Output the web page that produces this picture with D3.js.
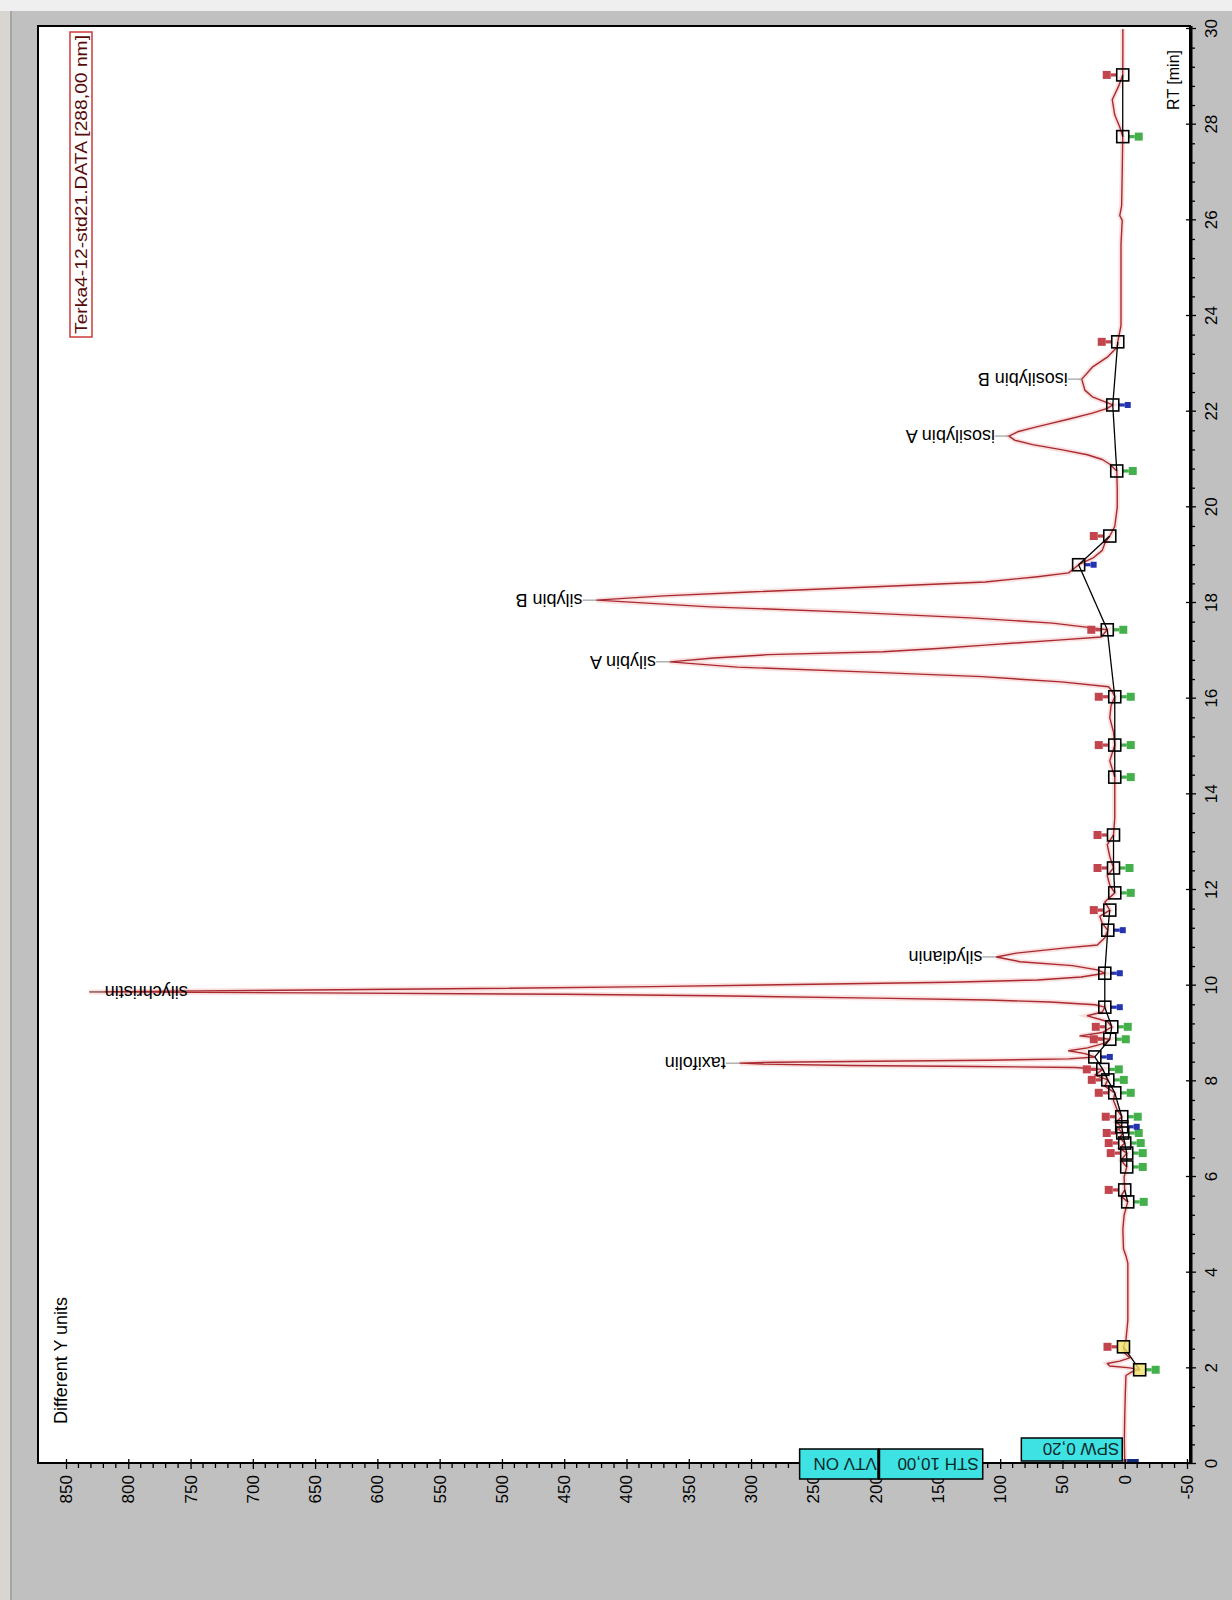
<!DOCTYPE html>
<html>
<head>
<meta charset="utf-8">
<title>Terka4-12-std21 chromatogram</title>
<script src="https://d3js.org/d3.v7.min.js"></script>
<style>
  body { margin: 0; background: #c0c0c0; }
  svg { display: block; font-family: "Liberation Sans", Arial, sans-serif; }
  .axis path.domain { display: none; }
  .axis text { font-size: 17px; fill: #000; }
  .axis line { stroke: #000; stroke-width: 1.3; }
  .peak-label { font-size: 18px; fill: #000; }
  .event-box { fill: #3fe2e2; stroke: #000; stroke-width: 1.5; }
  .event-text { font-size: 17px; fill: #0b2a2a; }
</style>
</head>
<body>
<div id="chart"></div>
<script>
// trace: retention time (min) and detector signal
const traceRT = [0, 0.5, 1.0, 1.5, 1.85, 1.93, 1.97, 2.01, 2.05, 2.10, 2.15, 2.22, 2.32, 2.45, 2.6, 3.0, 3.6, 4.2, 4.35, 4.5,
  4.9, 5.2, 5.48, 5.6, 5.73, 6.0, 6.21, 6.35, 6.5, 6.6, 6.71, 6.82, 6.92, 7.0, 7.05, 7.15, 7.26, 7.4, 7.6, 7.76,
  7.9, 8.03, 8.13, 8.25, 8.29, 8.31, 8.33, 8.36, 8.38, 8.40, 8.42, 8.44, 8.47, 8.51, 8.58, 8.64, 8.70, 8.80, 8.88, 8.95,
  9.02, 9.14, 9.25, 9.37, 9.45, 9.55, 9.60, 9.66, 9.70, 9.74, 9.79, 9.82, 9.85, 9.87, 9.90, 9.94, 9.98, 10.03, 10.07, 10.12,
  10.18, 10.26, 10.33, 10.42, 10.50, 10.60, 10.68, 10.79, 10.85, 11.0, 11.16, 11.3, 11.45, 11.58, 11.75, 11.94, 12.1, 12.3, 12.46, 12.7,
  12.95, 13.15, 13.5, 14.0, 14.36, 14.7, 15.03, 15.3, 15.6, 15.85, 16.04, 16.15, 16.25, 16.35, 16.46, 16.56, 16.66, 16.77, 16.85, 16.92,
  16.98, 17.05, 17.12, 17.23, 17.29, 17.44, 17.48, 17.58, 17.69, 17.81, 17.92, 18.06, 18.15, 18.23, 18.34, 18.44, 18.55, 18.63, 18.80, 18.95,
  19.1, 19.25, 19.4, 19.6, 20.0, 20.4, 20.76, 20.9, 21.0, 21.1, 21.2, 21.31, 21.4, 21.49, 21.58, 21.66, 21.75, 21.83, 21.97, 22.07,
  22.14, 22.31, 22.45, 22.68, 22.93, 23.14, 23.35, 23.46, 23.8, 24.5, 25.5, 26.0, 26.1, 26.3, 27.0, 27.75, 27.95, 28.2, 28.52, 28.8,
  29.04, 29.5, 30.0];
const traceSig = [0, 0.3, 0, -0.5, -1, -6, -12, -4, 12, 14, 4, -4, 0, 1, -1, -2.5, -2.5, -2.5, -1, 1,
  1.5, 0.5, -2.4, 3, 0, 0.5, -1.6, 3, -1.6, 4, 0, 4, 1.6, 5, 2.4, 7, 2.4, 6, 9, 8,
  16, 13.6, 24, 17.6, 40, 120, 220, 290, 309, 280, 200, 110, 45, 24, 32, 45, 30, 16, 12, 36,
  18, 10.4, 14, 30, 18, 16, 24, 60, 110, 200, 330, 450, 650, 831, 700, 520, 380, 250, 140, 70,
  35, 16, 22, 42, 84, 103, 87, 47, 22, 16, 13.6, 18, 20, 12, 16, 8, 12, 14, 9, 12,
  14, 9, 8, 8, 8, 12, 8, 9, 12, 11, 8, 10, 13, 51, 115, 210, 311, 365, 330, 286,
  194, 150, 112, 51, 19, 14, 26, 58, 124, 222, 333, 424, 370, 301, 200, 112, 70, 45, 37, 25,
  18, 16, 12, 8, 6, 6, 6.4, 12, 18, 30, 50, 74, 88, 93, 86, 74, 60, 47, 26, 14,
  9.6, 26, 32, 34.5, 26, 14, 6, 5.6, 3, 3, 3, 2, 4, 2.5, 2, 1.6, 4, 8, 10, 5,
  1.6, 1.5, 1.5];

// integration baseline points; S start, E end, SE end + start, V valley
const baseRT = [1.97, 2.45, 5.48, 5.73, 6.21, 6.5, 6.71, 6.92, 7.05, 7.26, 7.76, 8.03, 8.25, 8.51, 8.88, 9.14, 9.55,
  10.26, 11.16, 11.58, 11.94, 12.46, 13.15, 14.36, 15.03, 16.04, 17.44, 18.8, 19.4, 20.76, 22.14, 23.46, 27.75, 29.04];
const baseSig = [-12, 1, -2.4, 0, -1.6, -1.6, 0, 1.6, 2.4, 2.4, 8, 13.6, 17.6, 24, 12, 10.4, 16,
  16, 13.6, 12, 8, 9, 9, 8, 8, 8, 14, 37, 12, 6.4, 9.6, 5.6, 1.6, 1.6];
const baseKind = ["S", "E", "S", "E", "S", "SE", "SE", "SE", "V", "SE", "SE", "SE", "SE", "V", "SE", "SE", "V",
  "V", "V", "E", "S", "SE", "E", "S", "SE", "SE", "SE", "V", "E", "S", "V", "E", "S", "E"];

// named peaks
const peakNames = ["taxifolin", "silychristin", "silydianin", "silybin A", "silybin B", "isosilybin A", "isosilybin B"];
const peakRT = [8.38, 9.87, 10.6, 16.77, 18.06, 21.49, 22.68];
const peakSig = [309, 831, 103, 365, 424, 93, 34.5];

// axes
const sigTicks = d3.range(-50, 851, 50);
const sigMinor = d3.range(-50, 851, 10).filter(v => v % 50 !== 0);
const rtTicks = d3.range(0, 31, 2);
const rtMinor = d3.range(0, 30.01, 0.4).map(v => +v.toFixed(1)).filter(v => Math.abs(v / 2 - Math.round(v / 2)) > 1e-6);

const W = 1232, H = 1600;

const svg = d3.select("#chart")
  .append("svg")
  .attr("width", W)
  .attr("height", H);

// window background
svg.append("rect").attr("width", W).attr("height", H).attr("fill", "#c0c0c0");
svg.append("rect").attr("width", 10).attr("height", H).attr("fill", "#d9d6d1");
svg.append("rect").attr("x", 10).attr("width", 2).attr("height", H).attr("fill", "#a6a6a6");
svg.append("rect").attr("width", W).attr("height", 11).attr("fill", "#efefef");

// the chart is drawn in instrument orientation and then turned a quarter to the left
const g = svg.append("g").attr("transform", "translate(0,1600) rotate(-90)");

const frame = { left: 137, right: 1574, top: 38, bottom: 1190 };

const x = d3.scaleLinear().domain([0, 30]).range([136, 1571]);
const y = d3.scaleLinear().domain([-50, 850]).range([1187, 66]);

g.append("rect")
  .attr("x", frame.left)
  .attr("y", frame.top)
  .attr("width", frame.right - frame.left)
  .attr("height", frame.bottom - frame.top)
  .attr("fill", "#fff");

g.append("clipPath").attr("id", "plot-clip")
  .append("rect")
  .attr("x", frame.left)
  .attr("y", frame.top)
  .attr("width", frame.right - frame.left)
  .attr("height", frame.bottom - frame.top);

const plot = g.append("g").attr("clip-path", "url(#plot-clip)");

// injection mark
plot.append("rect")
  .attr("x", x(0) + 1).attr("y", y(0) - 2)
  .attr("width", 4).attr("height", 16)
  .attr("fill", "#102a78");

// trace
const pts = traceRT.map((t, i) => [t, traceSig[i]]);
const line = d3.line()
  .x(d => x(d[0]))
  .y(d => y(d[1]));

plot.append("path")
  .datum(pts)
  .attr("fill", "none")
  .attr("stroke", "#f6caca")
  .attr("stroke-width", 5)
  .attr("stroke-opacity", 0.6)
  .attr("d", line);

plot.append("path")
  .datum(pts)
  .attr("fill", "none")
  .attr("stroke", "#a82a30")
  .attr("stroke-width", 1.4)
  .attr("stroke-linejoin", "round")
  .attr("d", line);

// integration baseline
const basePts = baseRT.map((t, i) => ({ rt: t, sig: baseSig[i], kind: baseKind[i], i }));
basePts.forEach((p, i) => {
  if (i < basePts.length - 1 && p.kind !== "E") {
    const q = basePts[i + 1];
    plot.append("line")
      .attr("x1", x(p.rt)).attr("y1", y(p.sig))
      .attr("x2", x(q.rt)).attr("y2", y(q.sig))
      .attr("stroke", "#000")
      .attr("stroke-width", 1.3);
  }
});

// marker pins: red for peak end (towards higher signal), green for start, blue for valley
function pin(p, dir, color, head) {
  const cx = x(p.rt), cy = y(p.sig);
  plot.append("rect")
    .attr("x", cx - 1.6).attr("y", dir < 0 ? cy - 12 : cy + 6)
    .attr("width", 3.2).attr("height", 6)
    .attr("fill", color);
  plot.append("rect")
    .attr("x", cx - head / 2).attr("y", dir < 0 ? cy - 12 - head : cy + 12)
    .attr("width", head).attr("height", head)
    .attr("fill", color);
}
basePts.forEach(p => {
  if (p.kind === "E" || p.kind === "SE") pin(p, -1, "#c2444c", 8);
  if (p.kind === "S" || p.kind === "SE") pin(p, 1, "#44b04c", 8);
  if (p.kind === "V") pin(p, 1, "#2434b0", 6);
});

// squares at the baseline points, the first two belong to the solvent front
plot.selectAll(".base-sq")
  .data(basePts)
  .enter()
  .append("rect")
  .attr("class", "base-sq")
  .attr("x", d => x(d.rt) - 6)
  .attr("y", d => y(d.sig) - 6)
  .attr("width", 12)
  .attr("height", 12)
  .attr("fill", d => d.i < 2 ? "#f1e46c" : "none")
  .attr("fill-opacity", 0.8)
  .attr("stroke", "#000")
  .attr("stroke-width", 1.6);

// peak labels, written along the signal direction
const gap = 14;
peakNames.forEach((name, i) => {
  const lx = x(peakRT[i]);
  const tip = y(peakSig[i]);
  const t = plot.append("text")
    .attr("class", "peak-label")
    .attr("dy", "0.35em")
    .text(name);
  const len = t.node().getComputedTextLength();
  let yStart, leaderEnd;
  if (tip - gap - len < frame.top + 10) {
    // no room above the tip: put the name beside the tip instead
    leaderEnd = tip + 15;
    yStart = leaderEnd + len;
  } else {
    leaderEnd = tip - gap;
    yStart = leaderEnd;
  }
  t.attr("transform", `translate(${lx},${yStart}) rotate(-90)`);
  plot.append("line")
    .attr("x1", lx).attr("x2", lx)
    .attr("y1", tip).attr("y2", leaderEnd)
    .attr("stroke", "#8a8a8a")
    .attr("stroke-width", 1);
});

// signal axis
const sigAxis = g.append("g")
  .attr("class", "axis")
  .attr("transform", `translate(${frame.left},0)`)
  .call(d3.axisLeft(y).tickValues(sigTicks).tickFormat(d => String(d))
    .tickSizeInner(6).tickSizeOuter(0).tickPadding(6));
sigAxis.selectAll(".tick line").attr("x1", 4).attr("x2", -6);
sigAxis.selectAll(".sig-minor")
  .data(sigMinor)
  .enter()
  .append("line")
  .attr("class", "sig-minor")
  .attr("x1", 0).attr("x2", -5)
  .attr("y1", d => y(d)).attr("y2", d => y(d));

// retention time axis
const rtAxis = g.append("g")
  .attr("class", "axis")
  .attr("transform", `translate(0,${frame.bottom})`)
  .call(d3.axisBottom(x).tickValues(rtTicks).tickFormat(d => String(d))
    .tickSizeInner(6).tickSizeOuter(0).tickPadding(9));
rtAxis.selectAll(".tick line").attr("y1", -4).attr("y2", 6);
rtAxis.selectAll(".rt-minor")
  .data(rtMinor)
  .enter()
  .append("line")
  .attr("class", "rt-minor")
  .attr("x1", d => x(d)).attr("x2", d => x(d))
  .attr("y1", 0).attr("y2", 5);

// frame
g.append("rect")
  .attr("x", frame.left)
  .attr("y", frame.top)
  .attr("width", frame.right - frame.left)
  .attr("height", frame.bottom - frame.top)
  .attr("fill", "none")
  .attr("stroke", "#000")
  .attr("stroke-width", 2);
g.append("line")
  .attr("x1", frame.left).attr("x2", frame.right)
  .attr("y1", frame.bottom + 1).attr("y2", frame.bottom + 1)
  .attr("stroke", "#000")
  .attr("stroke-width", 3);

// event boxes at the start of the run, drawn over the axis
const evY0 = y(2), evY1 = y(83);
g.append("rect").attr("class", "event-box")
  .attr("x", frame.left + 2).attr("y", evY1)
  .attr("width", 23).attr("height", evY0 - evY1);
g.append("text").attr("class", "event-text")
  .attr("font-size", 18)
  .attr("transform", `translate(${frame.left + 14},${evY0 - 3}) rotate(-90)`)
  .attr("dy", "0.35em")
  .text("SPW 0,20");

const sthY0 = y(114), sthY1 = y(197.5), vtvY1 = y(261);
g.append("rect").attr("class", "event-box")
  .attr("x", frame.left - 16).attr("y", sthY1)
  .attr("width", 30).attr("height", sthY0 - sthY1);
g.append("rect").attr("class", "event-box")
  .attr("x", frame.left - 16).attr("y", vtvY1)
  .attr("width", 30).attr("height", sthY1 - vtvY1);
g.append("line")
  .attr("x1", frame.left - 16).attr("x2", frame.left + 14)
  .attr("y1", sthY1).attr("y2", sthY1)
  .attr("stroke", "#000").attr("stroke-width", 3);
g.append("text").attr("class", "event-text")
  .attr("transform", `translate(${frame.left - 1},${sthY0 - 4}) rotate(-90)`)
  .attr("dy", "0.35em")
  .text("STH 10,00");
g.append("text").attr("class", "event-text")
  .attr("transform", `translate(${frame.left - 1},${sthY1 - 2}) rotate(-90)`)
  .attr("dy", "0.35em")
  .text("VTV ON");

// texts
g.append("text")
  .attr("x", 176)
  .attr("y", 67)
  .attr("font-size", 18)
  .text("Different Y units");

g.append("text")
  .attr("x", 1550)
  .attr("y", 1179)
  .attr("text-anchor", "end")
  .attr("font-size", 16)
  .text("RT [min]");

g.append("rect")
  .attr("x", 1263)
  .attr("y", 70)
  .attr("width", 305)
  .attr("height", 22)
  .attr("fill", "none")
  .attr("stroke", "#cc3a3a")
  .attr("stroke-width", 1.5);
g.append("text")
  .attr("x", 1266)
  .attr("y", 87)
  .attr("font-size", 16)
  .attr("fill", "#5a0a0a")
  .attr("textLength", 299)
  .attr("lengthAdjust", "spacingAndGlyphs")
  .text("Terka4-12-std21.DATA [288,00 nm]");
</script>
</body>
</html>
